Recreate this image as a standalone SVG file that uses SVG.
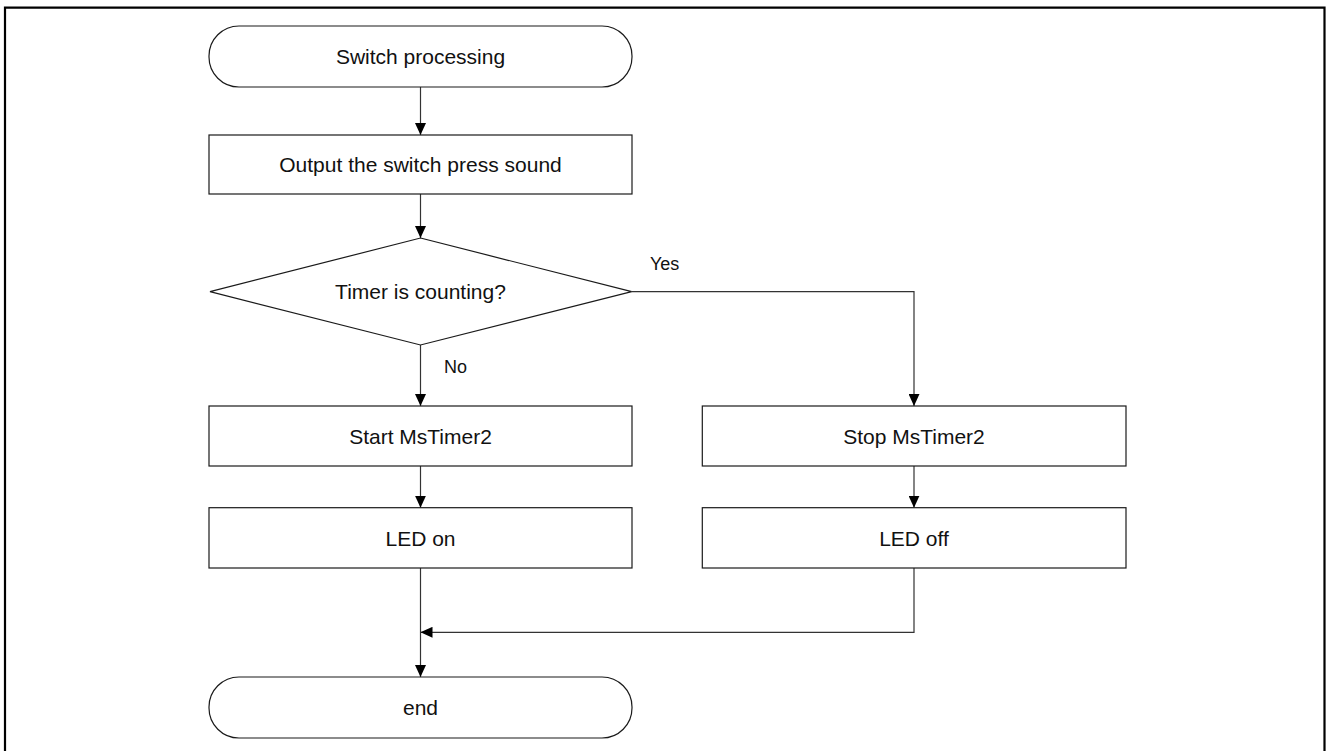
<svg xmlns="http://www.w3.org/2000/svg" width="1328" height="751" viewBox="0 0 1328 751">
  <style>
    .shape { fill: #ffffff; stroke: #1a1a1a; stroke-width: 1.2; }
    .link { fill: none; stroke: #333333; stroke-width: 1.2; }
    .label { font-family: "Liberation Sans", Arial, sans-serif; font-size: 21px; fill: #111111; text-anchor: middle; }
    .branch { font-family: "Liberation Sans", Arial, sans-serif; font-size: 18px; fill: #111111; }
  </style>
  <defs>
    <marker id="arrow" viewBox="0 0 12 11" refX="12" refY="5.5" markerWidth="12" markerHeight="11" markerUnits="userSpaceOnUse" orient="auto">
      <path d="M0,0 L12,5.5 L0,11 Z" fill="#000000"/>
    </marker>
  </defs>

  <rect x="0" y="0" width="1328" height="751" fill="#ffffff"/>

  <!-- frame -->
  <path d="M5,751 V7.7 H1324.5 V751" fill="none" stroke="#000000" stroke-width="2.2"/>

  <!-- connectors -->
  <g id="connectors">
    <path class="link" d="M420.5,87 V135" marker-end="url(#arrow)"/>
    <path class="link" d="M420.5,194 V238" marker-end="url(#arrow)"/>
    <path class="link" d="M631.7,291.7 H914 V406" marker-end="url(#arrow)"/>
    <path class="link" d="M420.5,345 V406" marker-end="url(#arrow)"/>
    <path class="link" d="M420.5,466 V507.7" marker-end="url(#arrow)"/>
    <path class="link" d="M914,466 V507.7" marker-end="url(#arrow)"/>
    <path class="link" d="M914,568 V632.3 H420.5" marker-end="url(#arrow)"/>
    <path class="link" d="M420.5,568 V677" marker-end="url(#arrow)"/>
    <text class="branch" x="650" y="270">Yes</text>
    <text class="branch" x="444" y="373">No</text>
  </g>

  <!-- nodes -->
  <g id="start">
    <rect class="shape" x="209" y="26" width="423" height="61" rx="30" ry="30"/>
    <text class="label" x="420.5" y="64">Switch processing</text>
  </g>
  <g id="output-sound">
    <rect class="shape" x="209" y="135" width="423" height="59"/>
    <text class="label" x="420.5" y="172">Output the switch press sound</text>
  </g>
  <g id="timer-check">
    <polygon class="shape" points="420.5,238 631.7,291.7 420.5,345 210,291.7"/>
    <text class="label" x="420.5" y="299">Timer is counting?</text>
  </g>
  <g id="start-timer">
    <rect class="shape" x="209" y="406" width="423" height="60"/>
    <text class="label" x="420.5" y="443.5">Start MsTimer2</text>
  </g>
  <g id="led-on">
    <rect class="shape" x="209" y="507.7" width="423" height="60.3"/>
    <text class="label" x="420.5" y="545.5">LED on</text>
  </g>
  <g id="stop-timer">
    <rect class="shape" x="702.3" y="406" width="423.7" height="60"/>
    <text class="label" x="914" y="443.5">Stop MsTimer2</text>
  </g>
  <g id="led-off">
    <rect class="shape" x="702.3" y="507.7" width="423.7" height="60.3"/>
    <text class="label" x="914" y="545.5">LED off</text>
  </g>
  <g id="end">
    <rect class="shape" x="209" y="677" width="423" height="61" rx="30" ry="30"/>
    <text class="label" x="420.5" y="715">end</text>
  </g>
</svg>
